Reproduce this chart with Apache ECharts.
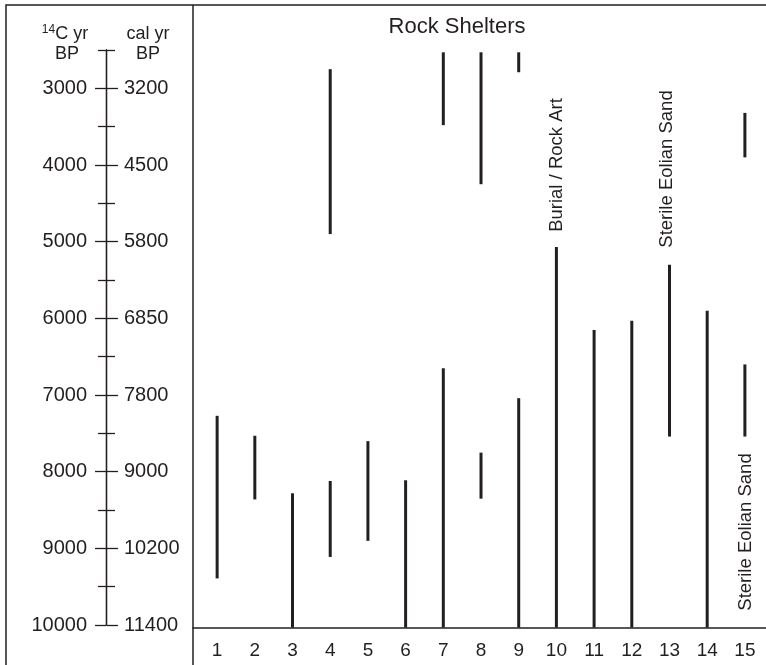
<!DOCTYPE html>
<html>
<head>
<meta charset="utf-8">
<script src="https://cdn.jsdelivr.net/npm/echarts@6/dist/echarts.min.js"></script>
<style>
  html, body { margin: 0; padding: 0; background: #fff; }
  #main { width: 766px; height: 665px; }
</style>
</head>
<body>
<div id="main"></div>
<script>
// sites along the bottom
const sites = [1, 2, 3, 4, 5, 6, 7, 8, 9, 10, 11, 12, 13, 14, 15]

// occupation spans (14C yr BP), one entry per vertical line
const segSite  = [1,    2,    3,     4,    4,    5,    6,     7,    7,     8,    8,    9,    9,     10,    11,    12,    13,   14,    15,   15]
const segYoung = [7270, 7530, 8280,  2750, 8120, 7600, 8110,  2530, 6650,  2530, 7750, 2530, 7040,  5070,  6150,  6030,  5300, 5900,  3320, 6600]
const segOld   = [9390, 8360, 10030, 4900, 9110, 8900, 10030, 3480, 10030, 4250, 8350, 2790, 10030, 10030, 10030, 10030, 7540, 10030, 3900, 7540]

// left scale
const c14Ticks = [3000, 4000, 5000, 6000, 7000, 8000, 9000, 10000]
const c14Minor = [2500, 3500, 4500, 5500, 6500, 7500, 8500, 9500]
const calLabels = ['3200', '4500', '5800', '6850', '7800', '9000', '10200', '11400']

const ink = '#231f20'
const font = 'Liberation Sans, Arial, sans-serif'

const myChart = echarts.init(document.getElementById('main'))

// the 4 axes of the left scale share one thin grid
const scaleAxis = (position, ticks, len, labels) => ({
  type: 'value',
  gridIndex: 0,
  position: position,
  inverse: true,
  min: 2500,
  max: 10000,
  axisLine: { show: position === 'left', lineStyle: { color: ink, width: 1.3 } },
  axisTick: { show: true, length: len, customValues: ticks, lineStyle: { color: ink, width: 1.3 } },
  axisLabel: labels ? {
    show: true,
    customValues: c14Ticks,
    margin: position === 'left' ? 19 : 17,
    fontSize: 20,
    fontFamily: font,
    color: ink,
    formatter: labels
  } : { show: false },
  splitLine: { show: false }
})

myChart.setOption({
  animation: false,
  backgroundColor: '#fff',
  grid: [
    { left: 106, width: 1, top: 50, height: 575 },
    { left: 193, right: 0, top: 50, bottom: 37.5 }
  ],
  xAxis: [
    { type: 'value', gridIndex: 0, show: false },
    {
      type: 'value',
      gridIndex: 1,
      min: 0.36,
      max: 15.56,
      axisLine: { show: true, onZero: false, lineStyle: { color: ink, width: 1.5 } },
      axisTick: { show: false },
      splitLine: { show: false },
      axisLabel: {
        customValues: sites,
        margin: 14,
        fontSize: 19,
        fontFamily: font,
        color: ink
      }
    }
  ],
  yAxis: [
    scaleAxis('left', c14Ticks, 11, v => String(v)),
    scaleAxis('right', c14Ticks, 11, v => calLabels[c14Ticks.indexOf(v)] || ''),
    scaleAxis('left', c14Minor, 8, null),
    scaleAxis('right', c14Minor, 8, null),
    { type: 'value', gridIndex: 1, inverse: true, min: 2500, max: 10030, show: false }
  ],
  series: [{
    type: 'custom',
    xAxisIndex: 1,
    yAxisIndex: 4,
    clip: false,
    data: segSite.map((s, i) => [s, segYoung[i], segOld[i]]),
    renderItem: function (params, api) {
      const p1 = api.coord([api.value(0), api.value(1)])
      const p2 = api.coord([api.value(0), api.value(2)])
      return {
        type: 'line',
        shape: { x1: p1[0], y1: p1[1], x2: p2[0], y2: p2[1] },
        style: { stroke: ink, lineWidth: 3 }
      }
    }
  }],
  graphic: [
    // frame and divider
    { type: 'rect', shape: { x: 6, y: 5, width: 780, height: 700 }, style: { fill: null, stroke: ink, lineWidth: 1.5 }, silent: true },
    { type: 'line', shape: { x1: 193, y1: 5, x2: 193, y2: 700 }, style: { stroke: ink, lineWidth: 1.5 }, silent: true },
    // headers
    {
      type: 'text', x: 65, y: 34,
      style: {
        text: '{sup|14}{n|C yr}', align: 'center', verticalAlign: 'middle', fill: ink,
        rich: {
          sup: { fontSize: 12, fontFamily: font, fill: ink, padding: [0, 0, 8, 0] },
          n: { fontSize: 18, fontFamily: font, fill: ink }
        }
      }
    },
    { type: 'text', x: 67, y: 54, style: { text: 'BP', align: 'center', verticalAlign: 'middle', fontSize: 18, fontFamily: font, fill: ink } },
    { type: 'text', x: 148, y: 34, style: { text: 'cal yr', align: 'center', verticalAlign: 'middle', fontSize: 18, fontFamily: font, fill: ink } },
    { type: 'text', x: 148, y: 54, style: { text: 'BP', align: 'center', verticalAlign: 'middle', fontSize: 18, fontFamily: font, fill: ink } },
    { type: 'text', x: 457, y: 27, style: { text: 'Rock Shelters', align: 'center', verticalAlign: 'middle', fontSize: 22, fontFamily: font, fill: ink } },
    // rotated notes
    { type: 'text', x: 557, y: 165, rotation: Math.PI / 2, style: { text: 'Burial / Rock Art', align: 'center', verticalAlign: 'middle', fontSize: 18.5, fontFamily: font, fill: ink } },
    { type: 'text', x: 667, y: 169, rotation: Math.PI / 2, style: { text: 'Sterile Eolian Sand', align: 'center', verticalAlign: 'middle', fontSize: 18.5, fontFamily: font, fill: ink } },
    { type: 'text', x: 746, y: 532, rotation: Math.PI / 2, style: { text: 'Sterile Eolian Sand', align: 'center', verticalAlign: 'middle', fontSize: 18.5, fontFamily: font, fill: ink } }
  ]
})
</script>
</body>
</html>
